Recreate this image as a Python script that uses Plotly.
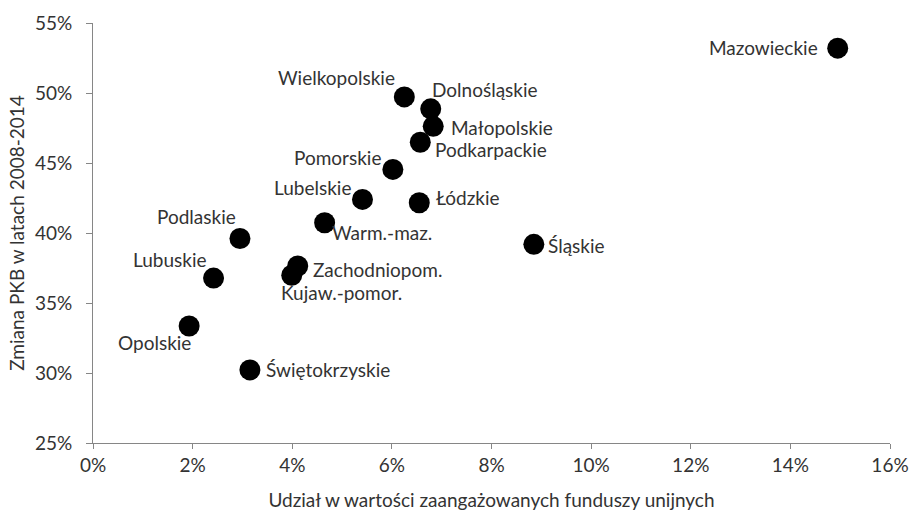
import plotly.graph_objects as go

regions = ["Mazowieckie", "Wielkopolskie", "Dolnośląskie", "Małopolskie", "Podkarpackie",
           "Pomorskie", "Lubelskie", "Łódzkie", "Warm.-maz.", "Śląskie", "Zachodniopom.",
           "Kujaw.-pomor.", "Podlaskie", "Lubuskie", "Opolskie", "Świętokrzyskie"]
eu_funds_share = [14.95, 6.25, 6.78, 6.83, 6.57, 6.02, 5.41, 6.55, 4.65,
                  8.85, 4.11, 3.99, 2.95, 2.42, 1.93, 3.15]
gdp_change = [53.20, 49.72, 48.87, 47.62, 46.48, 44.54, 42.40, 42.16, 40.73,
              39.19, 37.64, 36.98, 39.61, 36.78, 33.36, 30.22]
x_ticks = [0, 2, 4, 6, 8, 10, 12, 14, 16]
y_ticks = [25, 30, 35, 40, 45, 50, 55]
x_tick_labels = ["0%", "2%", "4%", "6%", "8%", "10%", "12%", "14%", "16%"]
y_tick_labels = ["25%", "30%", "35%", "40%", "45%", "50%", "55%"]

# label placement: (xanchor, yanchor, xshift, yshift)
label_pos = {
    "Mazowieckie": ("right", "middle", -18, 1),
    "Wielkopolskie": ("right", "middle", -7, 19),
    "Dolnośląskie": ("left", "middle", -1, 19),
    "Małopolskie": ("left", "middle", 16, -1),
    "Podkarpackie": ("left", "middle", 13, -7),
    "Pomorskie": ("right", "middle", -10, 12),
    "Lubelskie": ("right", "middle", -9, 12),
    "Łódzkie": ("left", "middle", 15, 5),
    "Warm.-maz.": ("left", "middle", 5, -10),
    "Śląskie": ("left", "middle", 12, -1),
    "Zachodniopom.": ("left", "middle", 13, -3),
    "Kujaw.-pomor.": ("left", "middle", -13, -17),
    "Podlaskie": ("right", "middle", -2, 22),
    "Lubuskie": ("right", "middle", -5, 19),
    "Opolskie": ("right", "middle", 4, -17),
    "Świętokrzyskie": ("left", "middle", 14, 0),
}

FONT = "Lato"
FS = 19
TXT = "#333333"
AX = "#868686"

fig = go.Figure()
fig.add_trace(go.Scatter(
    x=eu_funds_share, y=gdp_change, mode="markers",
    marker=dict(size=21, color="black"),
    hoverinfo="skip", showlegend=False, cliponaxis=False,
))

annotations = []
for name, xv, yv in zip(regions, eu_funds_share, gdp_change):
    xa, ya, xs, ys = label_pos[name]
    annotations.append(dict(
        x=xv, y=yv, xref="x", yref="y", text=name, showarrow=False,
        xanchor=xa, yanchor=ya, xshift=xs, yshift=ys,
        font=dict(family=FONT, size=FS, color=TXT),
    ))

fig.update_layout(
    width=910, height=511,
    margin=dict(l=93, r=20, t=23, b=68),
    paper_bgcolor="white", plot_bgcolor="white",
    font=dict(family=FONT, size=FS, color=TXT),
    annotations=annotations,
    xaxis=dict(
        range=[0, 16], tickmode="array", tickvals=x_ticks, ticktext=x_tick_labels,
        automargin=False, ticklabeloverflow="allow",
        showgrid=False, zeroline=False, showline=True, linecolor=AX, linewidth=1,
        ticks="outside", ticklen=5, tickcolor=AX,
        title=dict(text="Udział w wartości zaangażowanych funduszy unijnych",
                   font=dict(family=FONT, size=FS, color=TXT), standoff=21),
        tickfont=dict(family=FONT, size=FS, color=TXT),
    ),
    yaxis=dict(
        range=[25, 55], tickmode="array", tickvals=y_ticks, ticktext=y_tick_labels,
        automargin=False, ticklabelstandoff=10,
        showgrid=False, zeroline=False, showline=True, linecolor=AX, linewidth=1,
        ticks="outside", ticklen=6, tickcolor=AX,
        title=dict(text="Zmiana PKB w latach 2008-2014",
                   font=dict(family=FONT, size=FS, color=TXT), standoff=5),
        tickfont=dict(family=FONT, size=FS, color=TXT),
    ),
)

# remove the default page margin so the 910x511 figure fills the window exactly
fig.write_html(
    "out.html",
    config={"displayModeBar": False},
    post_script="document.body.style.margin='0';document.body.style.overflow='hidden';",
)
